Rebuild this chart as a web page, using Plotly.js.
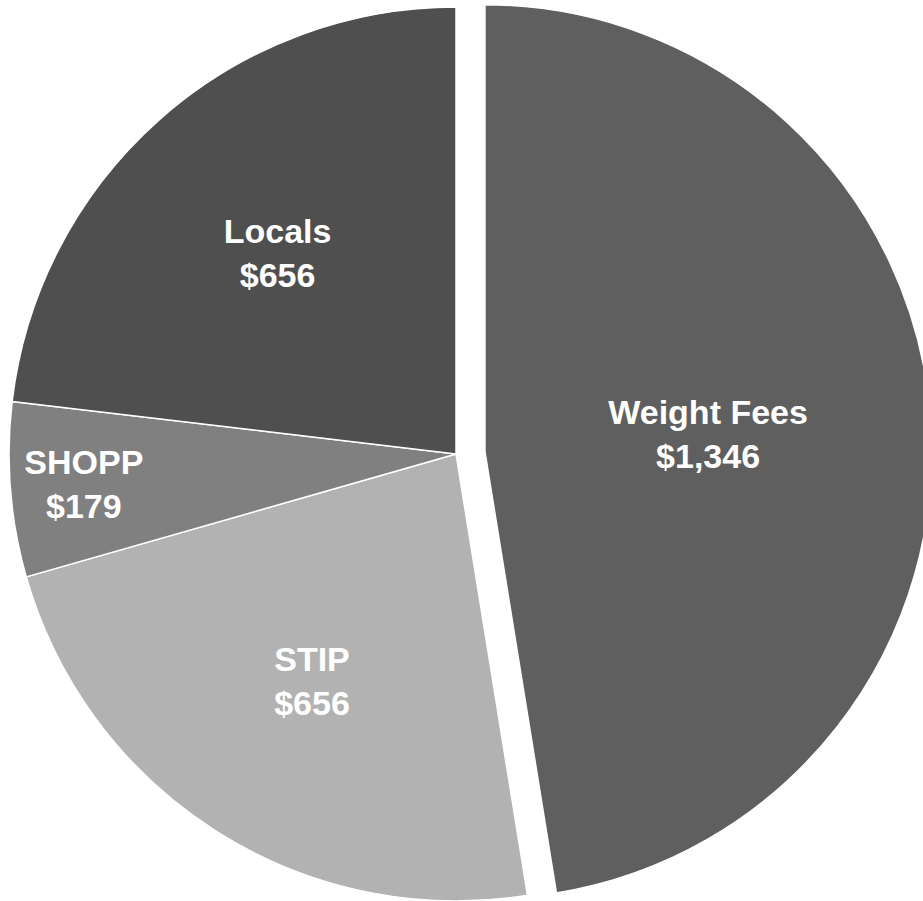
<!DOCTYPE html>
<html>
<head>
<meta charset="utf-8">
<script src="https://cdn.plot.ly/plotly-3.0.1.min.js"></script>
<style>
html, body { margin: 0; padding: 0; width: 923px; height: 901px; overflow: hidden; background: #fff; position: relative; }
#chart { position: absolute; left: -20px; top: -22px; width: 952px; height: 952px; }
</style>
</head>
<body>
<div id="chart"></div>
<script>
const categories = ["Weight Fees", "STIP", "SHOPP", "Locals"];
const amounts = [1346, 656, 179, 656];
const sliceColors = ["#5f5f5f", "#b2b2b2", "#808080", "#4f4f4f"];
const pulls = [0.065, 0, 0, 0];

const trace = {
  type: "pie",
  labels: categories,
  values: amounts,
  sort: false,
  direction: "clockwise",
  rotation: 0,
  pull: pulls,
  marker: { colors: sliceColors, line: { color: "#ffffff", width: 1.5 } },
  texttemplate: "%{label}<br>$%{value:,}",
  textposition: "inside",
  insidetextorientation: "horizontal",
  textfont: { family: "Liberation Sans, Arial, sans-serif", size: 34, color: "#ffffff", weight: "bold" },
  hoverinfo: "label+value",
  showlegend: false
};

const layout = {
  width: 952,
  height: 952,
  margin: { l: 0, r: 0, t: 0, b: 0 },
  paper_bgcolor: "#ffffff",
  showlegend: false
};

Plotly.newPlot("chart", [trace], layout, { displayModeBar: false, staticPlot: true });
</script>
</body>
</html>
